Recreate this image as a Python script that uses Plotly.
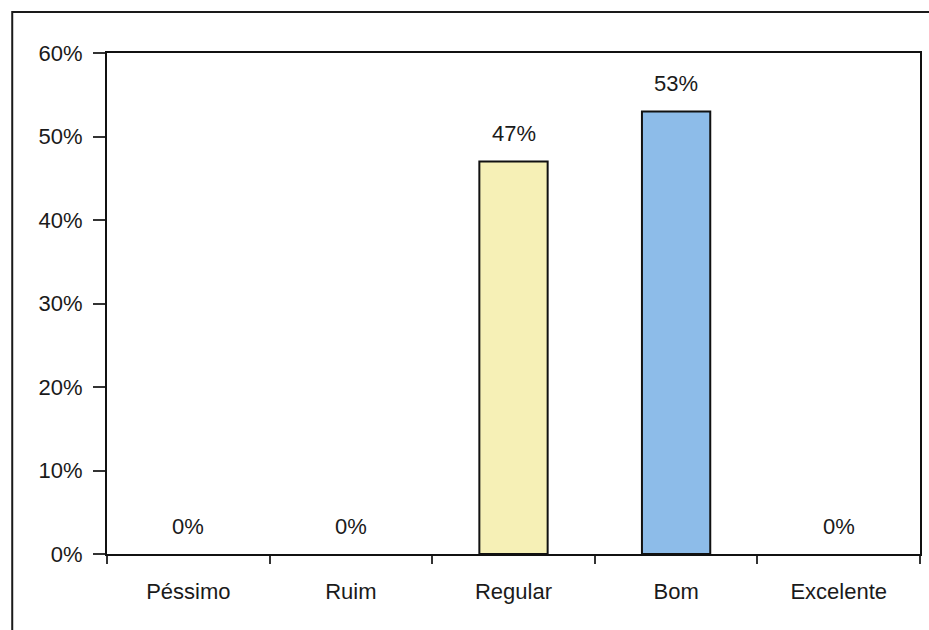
import plotly.graph_objects as go

# Survey answers and their shares (percent)
categories = ["Péssimo", "Ruim", "Regular", "Bom", "Excelente"]
shares = [0, 0, 47, 53, 0]
bar_colors = ["#F6F0B6", "#F6F0B6", "#F6F0B6", "#8DBCE9", "#8DBCE9"]
y_ticks = [0, 10, 20, 30, 40, 50, 60]
y_tick_labels = [f"{v}%" for v in y_ticks]

FONT = "Liberation Sans, Arial, sans-serif"
INK = "#1a1a1a"
SIZE = 22

# Empty categories get no visible outline
outline_widths = [2 if v > 0 else 0 for v in shares]

fig = go.Figure(
    go.Bar(
        x=categories,
        y=shares,
        marker=dict(color=bar_colors, line=dict(color="#111111", width=outline_widths)),
        width=0.42,
        hoverinfo="skip",
    )
)

# Value labels floating above each bar
for cat, val in zip(categories, shares):
    fig.add_annotation(
        x=cat, y=val, text=f"{val}%", showarrow=False,
        yanchor="middle", yshift=28,
        font=dict(family=FONT, size=SIZE, color=INK),
    )

# Frame around the whole chart (runs off the right and bottom edges)
W, H = 929, 630
L, R, T, B = 107, 7, 53, 76
pw, ph = W - L - R, H - T - B
fig.add_shape(
    type="rect", xref="paper", yref="paper",
    x0=(12 - L) / pw, x1=(945 - L) / pw,
    y0=(H - B - 645) / ph, y1=(H - B - 12) / ph,
    line=dict(color="#1a1a1a", width=2), fillcolor="rgba(0,0,0,0)",
)

fig.update_layout(
    width=W, height=H,
    margin=dict(l=L, r=R, t=T, b=B),
    paper_bgcolor="white", plot_bgcolor="white",
    showlegend=False,
    font=dict(family=FONT, size=SIZE, color=INK),
)
fig.update_xaxes(
    type="category",
    showline=True, linecolor="#111111", linewidth=2, mirror=True,
    ticks="outside", ticklen=8, tickcolor="#333333", tickwidth=1.5,
    tickson="boundaries", showgrid=False, zeroline=False,
    ticklabelstandoff=17,
    tickfont=dict(family=FONT, size=SIZE, color=INK),
)
fig.update_yaxes(
    range=[0, 60], tickvals=y_ticks, ticktext=y_tick_labels,
    showline=True, linecolor="#111111", linewidth=2, mirror=True,
    ticks="outside", ticklen=12, tickcolor="#333333", tickwidth=1.5,
    showgrid=False, zeroline=False,
    ticklabelstandoff=6,
    tickfont=dict(family=FONT, size=SIZE, color=INK),
)

fig.write_html("out.html")
